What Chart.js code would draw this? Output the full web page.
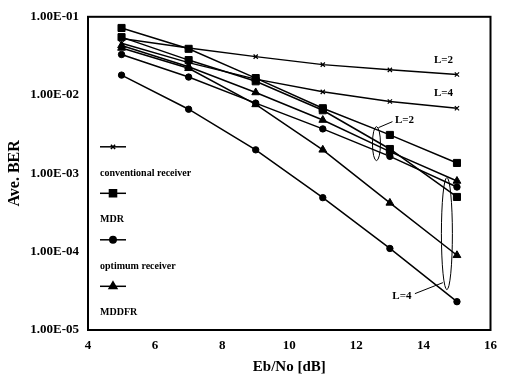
<!DOCTYPE html>
<html>
<head>
<meta charset="utf-8">
<script src="https://cdn.jsdelivr.net/npm/chart.js@4.4.1/dist/chart.umd.min.js"></script>
<style>
  html, body { margin: 0; padding: 0; background: #fff; }
  #wrap { width: 505px; height: 382px; position: relative; }
</style>
</head>
<body>
<div id="wrap"><canvas id="berChart"></canvas></div>
<script>
// Eb/No points (dB)
const ebno = [5, 7, 9, 11, 13, 15];

// average BER
const convL2  = [5.3e-2, 4.0e-2, 3.1e-2, 2.45e-2, 2.1e-2, 1.83e-2];
const convL4  = [4.6e-2, 2.6e-2, 1.6e-2, 1.1e-2, 8.3e-3, 6.8e-3];
const mdrL2   = [7.2e-2, 3.9e-2, 1.65e-2, 6.8e-3, 3.1e-3, 1.36e-3];
const mdrL4   = [5.5e-2, 2.8e-2, 1.5e-2, 6.4e-3, 2.05e-3, 5.0e-4];
const optL2   = [3.3e-2, 1.7e-2, 7.9e-3, 3.7e-3, 1.65e-3, 6.7e-4];
const optL4   = [1.8e-2, 6.6e-3, 2.0e-3, 4.9e-4, 1.1e-4, 2.3e-5];
const mddfrL2 = [4.3e-2, 2.3e-2, 1.08e-2, 4.8e-3, 1.9e-3, 8.0e-4];
const mddfrL4 = [4.0e-2, 2.2e-2, 7.6e-3, 2.0e-3, 4.2e-4, 9.0e-5];

// axis ticks
const xTicks = [4, 6, 8, 10, 12, 14, 16];
const yTickValues = [1e-5, 1e-4, 1e-3, 1e-2, 1e-1];
const yTickLabels = ['1.00E-05', '1.00E-04', '1.00E-03', '1.00E-02', '1.00E-01'];

// legend entries (drawn inside the plot, line sample above the label)
const legendNames = ['conventional receiver', 'MDR', 'optimum receiver', 'MDDFR'];
const legendStyles = ['crossRot', 'rect', 'circle', 'triangle'];

const SERIF = '"Liberation Serif", "DejaVu Serif", serif';

function pts(ys) {
    return ebno.map((x, i) => ({ x: x, y: ys[i] }));
}

const markerSize = { crossRot: 3, rect: 5, circle: 3.2, triangle: 4.5 };

function series(label, ys, style) {
    return {
        label: label,
        data: pts(ys),
        borderColor: '#000',
        backgroundColor: '#000',
        borderWidth: 1.5,
        pointStyle: style,
        pointRadius: markerSize[style],
        pointBorderWidth: style === 'crossRot' ? 1.2 : 1,
        pointBorderColor: '#000',
        pointBackgroundColor: '#000',
        fill: false,
        tension: 0
    };
}

// white background + frame around plot area
const framePlugin = {
    id: 'frame',
    beforeDraw(chart) {
        const c = chart.ctx;
        c.save();
        c.fillStyle = '#fff';
        c.fillRect(0, 0, chart.width, chart.height);
        c.restore();
    },
    afterDraw(chart) {
        const a = chart.chartArea;
        const c = chart.ctx;
        c.save();
        c.strokeStyle = '#000';
        c.lineWidth = 2;
        c.strokeRect(a.left, a.top, a.right - a.left, a.bottom - a.top);
        c.restore();
    }
};

// custom legend + L=2 / L=4 notes
const notesPlugin = {
    id: 'notes',
    afterDatasetsDraw(chart) {
        const c = chart.ctx;
        const xs = chart.scales.x;
        const ys = chart.scales.y;
        const a = chart.chartArea;
        c.save();

        // legend
        const lx = a.left + 12;
        legendNames.forEach((name, i) => {
            const sy = a.top + 130 + i * 46.5;
            c.strokeStyle = '#000';
            c.lineWidth = 1.5;
            c.beginPath();
            c.moveTo(lx, sy);
            c.lineTo(lx + 26, sy);
            c.stroke();
            c.fillStyle = '#000';
            Chart.helpers.drawPoint(c, {
                pointStyle: legendStyles[i],
                radius: markerSize[legendStyles[i]],
                borderWidth: 1.5
            }, lx + 13, sy);
            c.font = 'bold 10px ' + SERIF;
            c.textBaseline = 'middle';
            c.textAlign = 'left';
            c.fillText(name, lx, sy + 26.5);
        });

        c.font = 'bold 11px ' + SERIF;
        c.fillStyle = '#000';
        c.textAlign = 'center';
        c.textBaseline = 'middle';
        c.fillText('L=2', xs.getPixelForValue(14.6), ys.getPixelForValue(1.95e-2) - 12);
        c.fillText('L=4', xs.getPixelForValue(14.6), ys.getPixelForValue(7.5e-3) - 12);

        // small ellipse around L=2 group
        const e1x = xs.getPixelForValue(12.6), e1y = ys.getPixelForValue(2.4e-3);
        c.lineWidth = 1;
        c.strokeStyle = '#000';
        c.beginPath();
        c.ellipse(e1x, e1y, 4, 17, 0, 0, Math.PI * 2);
        c.stroke();
        c.beginPath();
        c.moveTo(e1x + 2, e1y - 16);
        c.lineTo(e1x + 16, e1y - 22);
        c.stroke();
        c.fillText('L=2', e1x + 28, e1y - 23);

        // big ellipse around L=4 group
        const e2x = xs.getPixelForValue(14.7), e2y = ys.getPixelForValue(1.7e-4);
        c.beginPath();
        c.ellipse(e2x, e2y, 5.5, 56, 0, 0, Math.PI * 2);
        c.stroke();
        c.beginPath();
        c.moveTo(e2x - 4, e2y + 49);
        c.lineTo(e2x - 32, e2y + 60);
        c.stroke();
        c.fillText('L=4', e2x - 45, e2y + 63);

        c.restore();
    }
};

const chart = new Chart(document.getElementById('berChart'), {
    type: 'line',
    data: {
        datasets: [
            series('conventional receiver L=2', convL2, 'crossRot'),
            series('conventional receiver L=4', convL4, 'crossRot'),
            series('MDR L=2', mdrL2, 'rect'),
            series('MDR L=4', mdrL4, 'rect'),
            series('optimum receiver L=2', optL2, 'circle'),
            series('optimum receiver L=4', optL4, 'circle'),
            series('MDDFR L=2', mddfrL2, 'triangle'),
            series('MDDFR L=4', mddfrL4, 'triangle')
        ]
    },
    options: {
        responsive: true,
        maintainAspectRatio: false,
        animation: false,
        devicePixelRatio: 1,
        layout: { padding: { top: 15, right: 5, left: 0, bottom: 0 } },
        plugins: {
            legend: { display: false },
            tooltip: { enabled: false }
        },
        scales: {
            x: {
                type: 'linear',
                min: 4,
                max: 16,
                afterBuildTicks: (s) => { s.ticks = xTicks.map(v => ({ value: v })); },
                afterFit: (s) => { s.height = 52; },
                grid: { display: false, drawTicks: false },
                border: { display: false },
                ticks: {
                    color: '#000',
                    padding: 8,
                    font: { family: SERIF, size: 13, weight: 'bold' }
                },
                title: {
                    display: true,
                    text: 'Eb/No [dB]',
                    color: '#000',
                    padding: { top: 0, bottom: 6 },
                    font: { family: SERIF, size: 15, weight: 'bold' }
                }
            },
            y: {
                type: 'logarithmic',
                min: 1e-5,
                max: 1e-1,
                afterBuildTicks: (s) => { s.ticks = yTickValues.map(v => ({ value: v })); },
                afterFit: (s) => { s.width = 88; },
                grid: { display: false, drawTicks: false },
                border: { display: false },
                ticks: {
                    color: '#000',
                    padding: 9,
                    font: { family: SERIF, size: 13, weight: 'bold' },
                    callback: (v, i) => yTickLabels[i]
                },
                title: {
                    display: true,
                    text: 'Ave. BER',
                    color: '#000',
                    padding: { top: 5, bottom: 0 },
                    font: { family: SERIF, size: 16, weight: 'bold' }
                }
            }
        }
    },
    plugins: [framePlugin, notesPlugin]
});
</script>
</body>
</html>
